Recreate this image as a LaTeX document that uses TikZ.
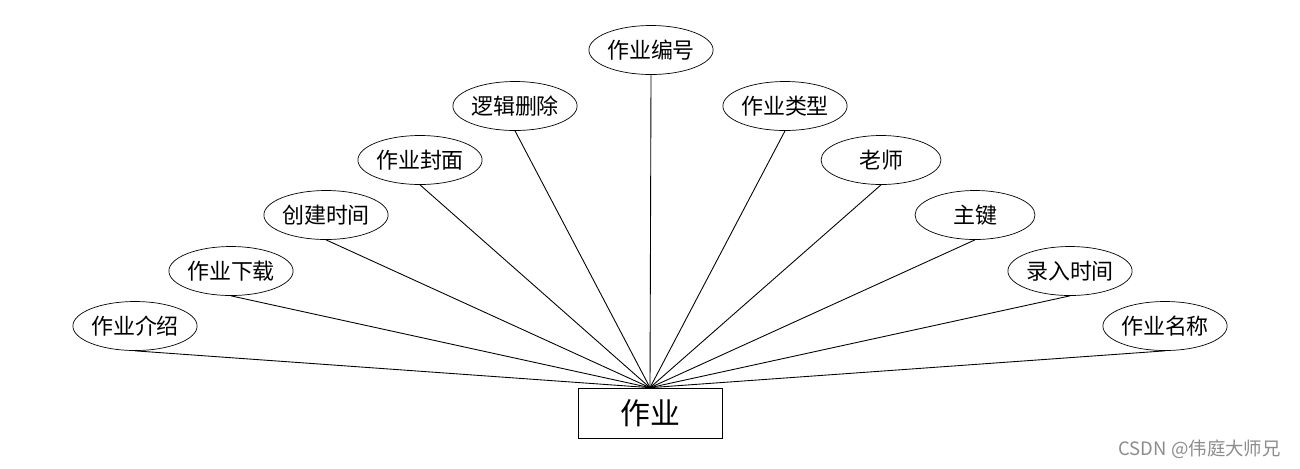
\documentclass[tikz,border=0pt]{standalone}
\usepackage{fontspec}
\setmainfont{Noto Sans CJK SC}
\usetikzlibrary{shapes.geometric}

\begin{document}
\begin{tikzpicture}[
    x=0.02cm, y=-0.02cm,
    attr/.style={draw=black, ellipse, minimum width=2.4cm, minimum height=0.98cm, inner sep=0pt, font=\fontsize{12.5}{14}\selectfont},
    entity/.style={draw=black, rectangle, minimum width=2.88cm, minimum height=1cm, inner sep=0pt, font=\fontsize{17}{20}\selectfont},
    link/.style={draw=black, line width=0.5pt},
]
\useasboundingbox (0,0) rectangle (1300,468);
\node[entity] (hw) at (650,413) {作业};
\node[attr] (bh) at (651,50) {作业编号};
\node[attr] (sc) at (515,106) {逻辑删除};
\node[attr] (lx) at (785,106) {作业类型};
\node[attr] (fm) at (420,160) {作业封面};
\node[attr] (ls) at (881,160) {老师};
\node[attr] (cj) at (326,215) {创建时间};
\node[attr] (zj) at (975,215) {主键};
\node[attr] (xz) at (231,271) {作业下载};
\node[attr] (lr) at (1070,271) {录入时间};
\node[attr] (js) at (135,326) {作业介绍};
\node[attr] (mc) at (1165,326) {作业名称};
\draw[link] (bh.south) -- (hw.north);
\draw[link] (sc.south) -- (hw.north);
\draw[link] (lx.south) -- (hw.north);
\draw[link] (fm.south) -- (hw.north);
\draw[link] (ls.south) -- (hw.north);
\draw[link] (cj.south) -- (hw.north);
\draw[link] (zj.south) -- (hw.north);
\draw[link] (xz.south) -- (hw.north);
\draw[link] (lr.south) -- (hw.north);
\draw[link] (js.south) -- (hw.north);
\draw[link] (mc.south) -- (hw.north);
% watermark
\node[text=black!45, font=\fontsize{10.5}{12}\selectfont, anchor=east] (wm) at (1287,449) {CSDN @伟庭大师兄};
\end{tikzpicture}
\end{document}
